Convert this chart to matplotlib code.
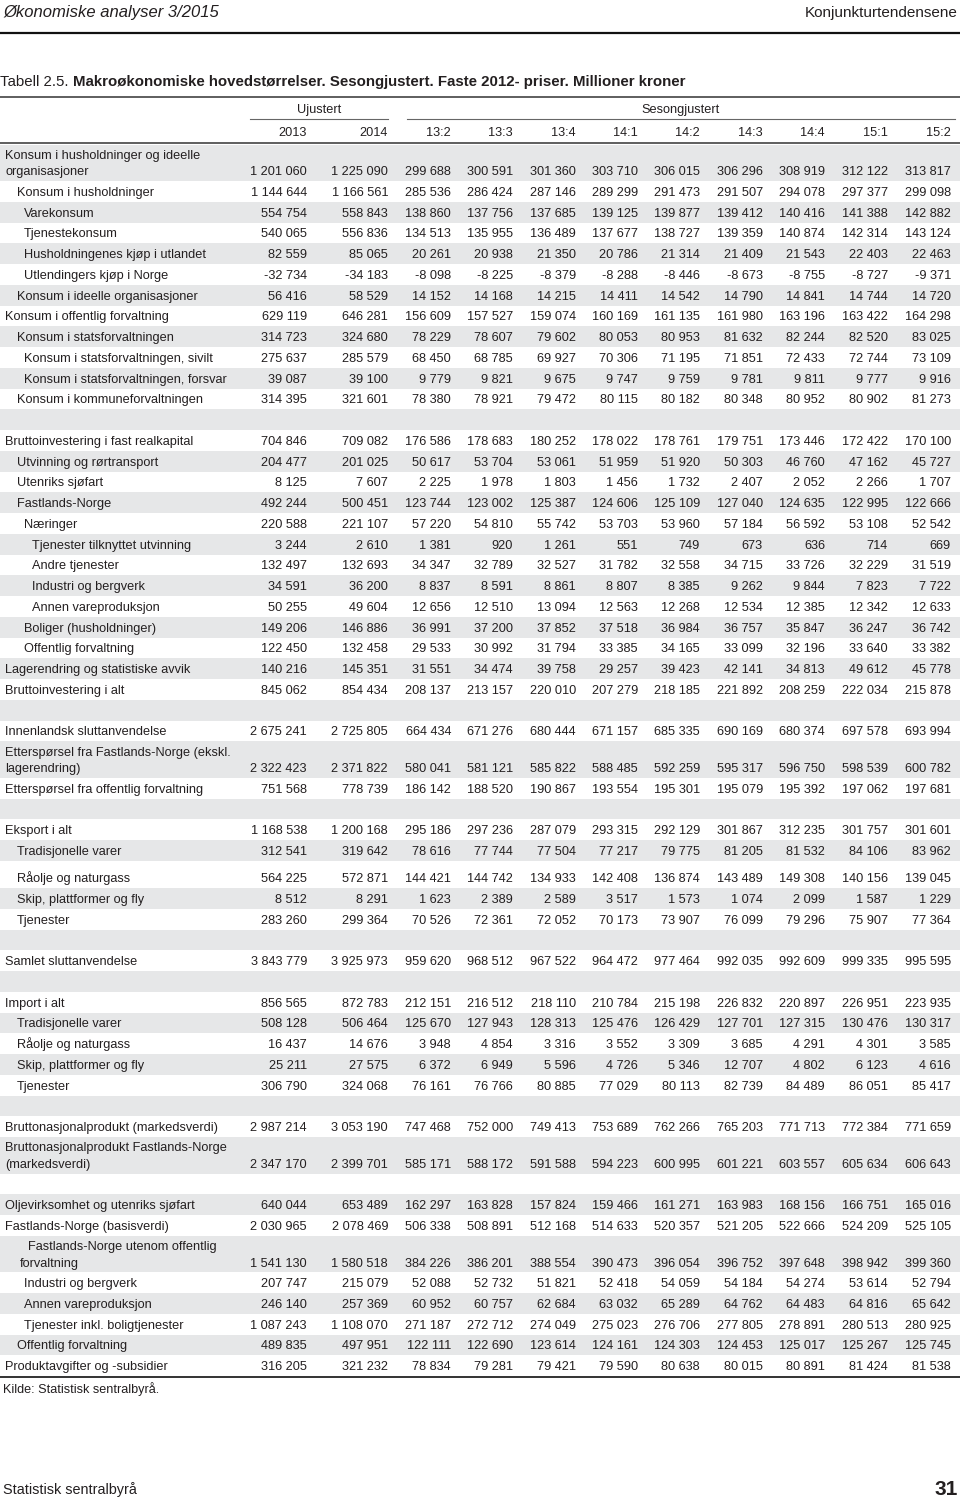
import matplotlib
matplotlib.use("Agg")
import matplotlib.pyplot as plt
from matplotlib import font_manager

# pick a condensed font if there is one
names = set(f.name for f in font_manager.fontManager.ttflist)
if 'Liberation Sans Narrow' in names:
    narrow = 'Liberation Sans Narrow'
else:
    narrow = 'Liberation Sans'
plt.rcParams['font.family'] = [narrow, 'DejaVu Sans']

txt_col = '#231f20'
band_col = '#e6e7e8'

col_heads = ['2013', '2014', '13:2', '13:3', '13:4', '14:1', '14:2', '14:3', '14:4', '15:1', '15:2']

# --- data, one block per section of the table ---
konsum_labels = ['Konsum i husholdninger og ideelle\norganisasjoner', 'Konsum i husholdninger', 'Varekonsum',
                 'Tjenestekonsum', 'Husholdningenes kjøp i utlandet', 'Utlendingers kjøp i Norge',
                 'Konsum i ideelle organisasjoner', 'Konsum i offentlig forvaltning', 'Konsum i statsforvaltningen',
                 'Konsum i statsforvaltningen, sivilt', 'Konsum i statsforvaltningen, forsvar',
                 'Konsum i kommuneforvaltningen']
konsum_vals = [
    [1201060, 1225090, 299688, 300591, 301360, 303710, 306015, 306296, 308919, 312122, 313817],
    [1144644, 1166561, 285536, 286424, 287146, 289299, 291473, 291507, 294078, 297377, 299098],
    [554754, 558843, 138860, 137756, 137685, 139125, 139877, 139412, 140416, 141388, 142882],
    [540065, 556836, 134513, 135955, 136489, 137677, 138727, 139359, 140874, 142314, 143124],
    [82559, 85065, 20261, 20938, 21350, 20786, 21314, 21409, 21543, 22403, 22463],
    [-32734, -34183, -8098, -8225, -8379, -8288, -8446, -8673, -8755, -8727, -9371],
    [56416, 58529, 14152, 14168, 14215, 14411, 14542, 14790, 14841, 14744, 14720],
    [629119, 646281, 156609, 157527, 159074, 160169, 161135, 161980, 163196, 163422, 164298],
    [314723, 324680, 78229, 78607, 79602, 80053, 80953, 81632, 82244, 82520, 83025],
    [275637, 285579, 68450, 68785, 69927, 70306, 71195, 71851, 72433, 72744, 73109],
    [39087, 39100, 9779, 9821, 9675, 9747, 9759, 9781, 9811, 9777, 9916],
    [314395, 321601, 78380, 78921, 79472, 80115, 80182, 80348, 80952, 80902, 81273],
]
konsum_ind = [0, 1, 2, 2, 2, 2, 1, 0, 1, 2, 2, 1]

invest_labels = ['Bruttoinvestering i fast realkapital', 'Utvinning og rørtransport', 'Utenriks sjøfart',
                 'Fastlands-Norge', 'Næringer', 'Tjenester tilknyttet utvinning', 'Andre tjenester',
                 'Industri og bergverk', 'Annen vareproduksjon', 'Boliger (husholdninger)', 'Offentlig forvaltning',
                 'Lagerendring og statistiske avvik', 'Bruttoinvestering i alt']
invest_vals = [
    [704846, 709082, 176586, 178683, 180252, 178022, 178761, 179751, 173446, 172422, 170100],
    [204477, 201025, 50617, 53704, 53061, 51959, 51920, 50303, 46760, 47162, 45727],
    [8125, 7607, 2225, 1978, 1803, 1456, 1732, 2407, 2052, 2266, 1707],
    [492244, 500451, 123744, 123002, 125387, 124606, 125109, 127040, 124635, 122995, 122666],
    [220588, 221107, 57220, 54810, 55742, 53703, 53960, 57184, 56592, 53108, 52542],
    [3244, 2610, 1381, 920, 1261, 551, 749, 673, 636, 714, 669],
    [132497, 132693, 34347, 32789, 32527, 31782, 32558, 34715, 33726, 32229, 31519],
    [34591, 36200, 8837, 8591, 8861, 8807, 8385, 9262, 9844, 7823, 7722],
    [50255, 49604, 12656, 12510, 13094, 12563, 12268, 12534, 12385, 12342, 12633],
    [149206, 146886, 36991, 37200, 37852, 37518, 36984, 36757, 35847, 36247, 36742],
    [122450, 132458, 29533, 30992, 31794, 33385, 34165, 33099, 32196, 33640, 33382],
    [140216, 145351, 31551, 34474, 39758, 29257, 39423, 42141, 34813, 49612, 45778],
    [845062, 854434, 208137, 213157, 220010, 207279, 218185, 221892, 208259, 222034, 215878],
]
invest_ind = [0, 1, 1, 1, 2, 3, 3, 3, 3, 2, 2, 0, 0]

ettersp_labels = ['Innenlandsk sluttanvendelse', 'Etterspørsel fra Fastlands-Norge (ekskl.\nlagerendring)',
                  'Etterspørsel fra offentlig forvaltning']
ettersp_vals = [
    [2675241, 2725805, 664434, 671276, 680444, 671157, 685335, 690169, 680374, 697578, 693994],
    [2322423, 2371822, 580041, 581121, 585822, 588485, 592259, 595317, 596750, 598539, 600782],
    [751568, 778739, 186142, 188520, 190867, 193554, 195301, 195079, 195392, 197062, 197681],
]
ettersp_ind = [0, 0, 0]

eksport_labels = ['Eksport i alt', 'Tradisjonelle varer', 'Råolje og naturgass', 'Skip, plattformer og fly', 'Tjenester']
eksport_vals = [
    [1168538, 1200168, 295186, 297236, 287079, 293315, 292129, 301867, 312235, 301757, 301601],
    [312541, 319642, 78616, 77744, 77504, 77217, 79775, 81205, 81532, 84106, 83962],
    [564225, 572871, 144421, 144742, 134933, 142408, 136874, 143489, 149308, 140156, 139045],
    [8512, 8291, 1623, 2389, 2589, 3517, 1573, 1074, 2099, 1587, 1229],
    [283260, 299364, 70526, 72361, 72052, 70173, 73907, 76099, 79296, 75907, 77364],
]
eksport_ind = [0, 1, 1, 1, 1]

samlet_labels = ['Samlet sluttanvendelse']
samlet_vals = [[3843779, 3925973, 959620, 968512, 967522, 964472, 977464, 992035, 992609, 999335, 995595]]
samlet_ind = [0]

import_labels = ['Import i alt', 'Tradisjonelle varer', 'Råolje og naturgass', 'Skip, plattformer og fly', 'Tjenester']
import_vals = [
    [856565, 872783, 212151, 216512, 218110, 210784, 215198, 226832, 220897, 226951, 223935],
    [508128, 506464, 125670, 127943, 128313, 125476, 126429, 127701, 127315, 130476, 130317],
    [16437, 14676, 3948, 4854, 3316, 3552, 3309, 3685, 4291, 4301, 3585],
    [25211, 27575, 6372, 6949, 5596, 4726, 5346, 12707, 4802, 6123, 4616],
    [306790, 324068, 76161, 76766, 80885, 77029, 80113, 82739, 84489, 86051, 85417],
]
import_ind = [0, 1, 1, 1, 1]

bnp_labels = ['Bruttonasjonalprodukt (markedsverdi)', 'Bruttonasjonalprodukt Fastlands-Norge\n(markedsverdi)']
bnp_vals = [
    [2987214, 3053190, 747468, 752000, 749413, 753689, 762266, 765203, 771713, 772384, 771659],
    [2347170, 2399701, 585171, 588172, 591588, 594223, 600995, 601221, 603557, 605634, 606643],
]
bnp_ind = [0, 0]

naering_labels = ['Oljevirksomhet og utenriks sjøfart', 'Fastlands-Norge (basisverdi)',
                  'Fastlands-Norge utenom offentlig\nforvaltning', 'Industri og bergverk', 'Annen vareproduksjon',
                  'Tjenester inkl. boligtjenester', 'Offentlig forvaltning', 'Produktavgifter og -subsidier']
naering_vals = [
    [640044, 653489, 162297, 163828, 157824, 159466, 161271, 163983, 168156, 166751, 165016],
    [2030965, 2078469, 506338, 508891, 512168, 514633, 520357, 521205, 522666, 524209, 525105],
    [1541130, 1580518, 384226, 386201, 388554, 390473, 396054, 396752, 397648, 398942, 399360],
    [207747, 215079, 52088, 52732, 51821, 52418, 54059, 54184, 54274, 53614, 52794],
    [246140, 257369, 60952, 60757, 62684, 63032, 65289, 64762, 64483, 64816, 65642],
    [1087243, 1108070, 271187, 272712, 274049, 275023, 276706, 277805, 278891, 280513, 280925],
    [489835, 497951, 122111, 122690, 123614, 124161, 124303, 124453, 125017, 125267, 125745],
    [316205, 321232, 78834, 79281, 79421, 79590, 80638, 80015, 80891, 81424, 81538],
]
naering_ind = [0, 0, 'hang', 2, 2, 2, 1, 0]

sections = [
    (konsum_labels, konsum_vals, konsum_ind),
    (invest_labels, invest_vals, invest_ind),
    (ettersp_labels, ettersp_vals, ettersp_ind),
    (eksport_labels, eksport_vals, eksport_ind),
    (samlet_labels, samlet_vals, samlet_ind),
    (import_labels, import_vals, import_ind),
    (bnp_labels, bnp_vals, bnp_ind),
    (naering_labels, naering_vals, naering_ind),
]


def fmt(v):
    s = '{:,}'.format(abs(v)).replace(',', ' ')
    return '-' + s if v < 0 else s


# --- layout (pixels) ---
W, H = 960, 1502
col_right = [307, 388, 451, 513, 576, 638, 700, 763, 825, 888, 951]
indent_px = {0: 5, 1: 17, 2: 24, 3: 32}
row_h = 20.75
row_h2 = 36.5
fs = 9.2
base_off = 4.4

fig = plt.figure(figsize=(W / 100, H / 100), dpi=100)
ax = fig.add_axes([0, 0, 1, 1])
ax.set_xlim(0, W)
ax.set_ylim(H, 0)
ax.axis('off')

# page header
ax.text(3, 17, 'Økonomiske analyser 3/2015', fontsize=12, style='italic', color=txt_col)
ax.text(958, 17, 'Konjunkturtendensene', fontsize=11, ha='right', color=txt_col)
ax.plot([0, W], [32.5, 32.5], color='#111111', lw=1.6, solid_capstyle='butt')

# title
t = ax.text(0, 86, 'Tabell 2.5. ', fontsize=10.8, color=txt_col)
fig.canvas.draw()
x_end = ax.transData.inverted().transform((t.get_window_extent().x1, 0))[0]
ax.text(x_end, 86, 'Makroøkonomiske hovedstørrelser. Sesongjustert. Faste 2012- priser. Millioner kroner',
        fontsize=10.8, fontweight='bold', color=txt_col)

# column header
ax.plot([0, W], [97, 97], color='#333333', lw=1.1, solid_capstyle='butt')
ax.text((250 + 388) / 2, 113.5, 'Ujustert', fontsize=fs, ha='center', color=txt_col)
ax.text((407 + 955) / 2, 113.5, 'Sesongjustert', fontsize=fs, ha='center', color=txt_col)
ax.plot([250, 388], [119, 119], color='#666666', lw=0.8)
ax.plot([407, 955], [119, 119], color='#666666', lw=0.8)
for xr, lab in zip(col_right, col_heads):
    ax.text(xr, 136.5, lab, fontsize=fs, ha='right', color=txt_col)
ax.plot([0, W], [143, 143], color='#333333', lw=1.1, solid_capstyle='butt')

# body
y = 144.5
k = 0  # row counter for banding
for si, (labels, vals, inds) in enumerate(sections):
    if si > 0:
        # empty separator row
        if k % 2 == 0:
            ax.fill_between([0, W], y, y + row_h, color=band_col, lw=0)
        y += row_h
        k += 1
    for lab, row, ind in zip(labels, vals, inds):
        if labels is eksport_labels and lab == 'Råolje og naturgass':
            y += 6.5
        two = '\n' in lab
        h = row_h2 if two else row_h
        if k % 2 == 0:
            ax.fill_between([0, W], y, y + h, color=band_col, lw=0)
        if two:
            l1, l2 = lab.split('\n')
            yb1 = y + h / 2 - 8.3 + base_off
            yb2 = y + h / 2 + 8.3 + base_off
            if ind == 'hang':
                x1, x2 = 28, 20
            else:
                x1 = x2 = indent_px[ind]
            ax.text(x1, yb1, l1, fontsize=fs, color=txt_col)
            ax.text(x2, yb2, l2, fontsize=fs, color=txt_col)
            ynum = yb2
        else:
            ynum = y + h / 2 + base_off
            ax.text(indent_px[ind], ynum, lab, fontsize=fs, color=txt_col)
        for xr, v in zip(col_right, row):
            ax.text(xr, ynum, fmt(v), fontsize=fs, ha='right', color=txt_col)
        y += h
        k += 1

ax.plot([0, W], [y + 0.5, y + 0.5], color='#333333', lw=1.4, solid_capstyle='butt')
ax.text(3, y + 16.5, 'Kilde: Statistisk sentralbyrå.', fontsize=9.1, color=txt_col)

# page footer
ax.text(3, 1494, 'Statistisk sentralbyrå', fontsize=10.4, color=txt_col)
ax.text(958, 1495, '31', fontsize=15, fontweight='bold', ha='right', color=txt_col)

fig.savefig('out.png', dpi=100)
